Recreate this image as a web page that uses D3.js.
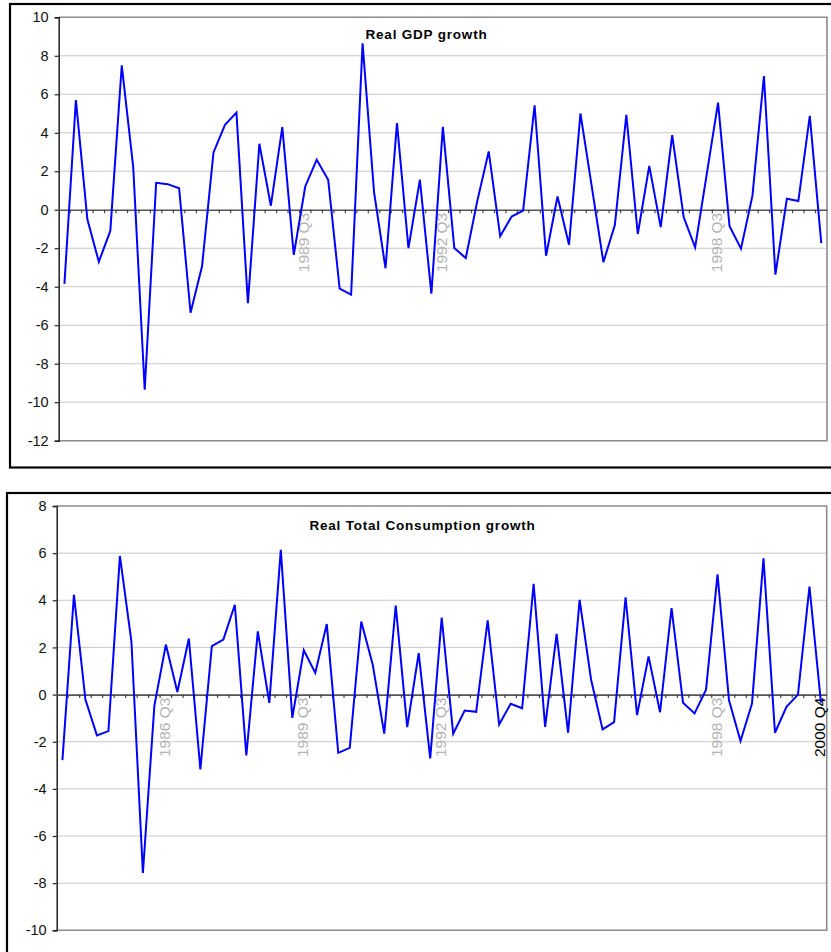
<!DOCTYPE html>
<html>
<head>
<meta charset="utf-8">
<script src="https://cdn.jsdelivr.net/npm/d3@7"></script>
<style>
  html, body { margin: 0; padding: 0; background: #fff; }
  svg { display: block; }
  text { font-family: "Liberation Sans", Arial, sans-serif; }
</style>
</head>
<body>
<svg id="chart" width="831" height="952"></svg>
<script>
const categories = [
  "1984 Q2","1984 Q3","1984 Q4",
  "1985 Q1","1985 Q2","1985 Q3","1985 Q4",
  "1986 Q1","1986 Q2","1986 Q3","1986 Q4",
  "1987 Q1","1987 Q2","1987 Q3","1987 Q4",
  "1988 Q1","1988 Q2","1988 Q3","1988 Q4",
  "1989 Q1","1989 Q2","1989 Q3","1989 Q4",
  "1990 Q1","1990 Q2","1990 Q3","1990 Q4",
  "1991 Q1","1991 Q2","1991 Q3","1991 Q4",
  "1992 Q1","1992 Q2","1992 Q3","1992 Q4",
  "1993 Q1","1993 Q2","1993 Q3","1993 Q4",
  "1994 Q1","1994 Q2","1994 Q3","1994 Q4",
  "1995 Q1","1995 Q2","1995 Q3","1995 Q4",
  "1996 Q1","1996 Q2","1996 Q3","1996 Q4",
  "1997 Q1","1997 Q2","1997 Q3","1997 Q4",
  "1998 Q1","1998 Q2","1998 Q3","1998 Q4",
  "1999 Q1","1999 Q2","1999 Q3","1999 Q4",
  "2000 Q1","2000 Q2","2000 Q3","2000 Q4"
];

const gdpGrowth = [-3.85, 5.7, -0.5, -2.7, -1.1, 7.5, 2.2, -9.35, 1.4, 1.33,
  1.12, -5.35, -2.94, 2.98, 4.41, 5.05, -4.86, 3.43, 0.21, 4.29,
  -2.34, 1.21, 2.6, 1.56, -4.1, -4.41, 8.65, 0.92, -3.04, 4.5,
  -1.99, 1.56, -4.36, 4.31, -1.99, -2.51, 0.45, 3.03, -1.38, -0.35,
  -0.05, 5.43, -2.39, 0.69, -1.82, 5.0, 1.15, -2.72, -0.8, 4.93,
  -1.26, 2.28, -0.9, 3.88, -0.38, -1.95, 1.8, 5.57, -0.85, -2.02,
  0.73, 6.95, -3.37, 0.57, 0.45, 4.88, -1.73];

const consGrowth = [-2.78, 4.23, -0.21, -1.73, -1.55, 5.88, 2.26, -7.57, -0.47, 2.12,
  0.11, 2.38, -3.17, 2.06, 2.33, 3.81, -2.58, 2.68, -0.35, 6.14,
  -0.99, 1.88, 0.92, 2.99, -2.47, -2.26, 3.1, 1.27, -1.66, 3.77,
  -1.38, 1.76, -2.71, 3.27, -1.66, -0.68, -0.73, 3.15, -1.27, -0.39,
  -0.58, 4.7, -1.37, 2.58, -1.62, 4.02, 0.63, -1.48, -1.17, 4.13,
  -0.87, 1.62, -0.75, 3.67, -0.35, -0.8, 0.21, 5.1, -0.24, -1.97,
  -0.38, 5.78, -1.62, -0.52, 0.0, 4.58, -0.34];

const gdpTicks = [10, 8, 6, 4, 2, 0, -2, -4, -6, -8, -10, -12];
const consTicks = [8, 6, 4, 2, 0, -2, -4, -6, -8, -10];

const gdpLabels = ["1989 Q3", "1992 Q3", "1998 Q3"];
const consLabels = ["1986 Q3", "1989 Q3", "1992 Q3", "1998 Q3", "2000 Q4"];
const darkLabels = ["2000 Q4"];

const svg = d3.select("#chart");
svg.append("rect").attr("width", 831).attr("height", 952).attr("fill", "#fff");

function drawPanel(cfg) {
  const g = svg.append("g");
  // outer frame
  g.append("rect")
    .attr("x", cfg.frame[0]).attr("y", cfg.frame[1])
    .attr("width", cfg.frame[2]).attr("height", cfg.frame[3])
    .attr("fill", "none").attr("stroke", "#000").attr("stroke-width", 2.2);

  const [L, T, R, B] = cfg.plot;
  const x = d3.scaleBand().domain(categories).range([L, R]);
  const y = d3.scaleLinear().domain(cfg.domain).range([B, T]);
  const cx = c => x(c) + x.bandwidth() / 2;

  // gridlines
  g.append("g").selectAll("line").data(cfg.ticks.filter(t => t !== 0 && t !== cfg.domain[0] && t !== cfg.domain[1]))
    .join("line")
    .attr("x1", L).attr("x2", R)
    .attr("y1", d => y(d)).attr("y2", d => y(d))
    .attr("stroke", "#c8c8c8").attr("stroke-width", 1);

  // plot border (top, right, bottom)
  g.append("path")
    .attr("d", `M${L},${T}H${R}V${B}H${L}`)
    .attr("fill", "none").attr("stroke", "#8c8c8c").attr("stroke-width", 1.6);

  // y axis
  const yAxis = d3.axisLeft(y).tickValues(cfg.ticks).tickSize(4).tickPadding(6).tickFormat(d => String(d));
  const ya = g.append("g").attr("transform", `translate(${L},0)`).call(yAxis);
  ya.select(".domain").attr("stroke", "#222").attr("stroke-width", 1.5);
  ya.selectAll(".tick line").attr("stroke", "#222").attr("stroke-width", 1.2);
  ya.selectAll(".tick text").attr("font-size", 14.5).attr("fill", "#111")
    .attr("font-family", "'Liberation Sans', Arial, sans-serif");

  // zero axis with category ticks
  const y0 = y(0);
  const xAxis = d3.axisBottom(x).tickValues([]).tickSize(0);
  const xa = g.append("g").attr("transform", `translate(0,${y0})`).call(xAxis);
  xa.select(".domain").attr("stroke", "#555").attr("stroke-width", 1.6);
  g.append("g").selectAll("line").data(categories.slice(1))
    .join("line")
    .attr("x1", d => x(d)).attr("x2", d => x(d))
    .attr("y1", y0).attr("y2", y0 + 3.5)
    .attr("stroke", "#444").attr("stroke-width", 1.2);

  // category labels
  g.append("g").selectAll("text").data(cfg.labels)
    .join("text")
    .attr("transform", d => `translate(${cx(d) + 4},${y0 + 3}) rotate(-90)`)
    .attr("text-anchor", "end")
    .attr("font-size", 15.5)
    .attr("fill", d => darkLabels.includes(d) ? "#000" : "#b4b4b4")
    .text(d => d);

  // line
  const line = d3.line().x((d, i) => cx(categories[i])).y(d => y(d));
  g.append("path").datum(cfg.values)
    .attr("d", line)
    .attr("fill", "none").attr("stroke", "#0000ff").attr("stroke-width", 2)
    .attr("stroke-linejoin", "miter");

  // title
  g.append("text")
    .attr("x", cfg.title[1]).attr("y", cfg.title[2])
    .attr("text-anchor", "middle")
    .attr("font-size", 13.5).attr("font-weight", "bold")
    .attr("letter-spacing", 0.8)
    .attr("fill", "#000")
    .text(cfg.title[0]);
}

drawPanel({
  frame: [10, 4, 840, 463.5],
  plot: [58.7, 17.3, 827, 440.7],
  domain: [-12, 10],
  ticks: gdpTicks,
  values: gdpGrowth,
  labels: gdpLabels,
  title: ["Real GDP growth", 426.5, 39]
});

drawPanel({
  frame: [7, 493, 840, 480],
  plot: [56.7, 506, 826.7, 930.3],
  domain: [-10, 8],
  ticks: consTicks,
  values: consGrowth,
  labels: consLabels,
  title: ["Real Total Consumption growth", 422.5, 529.5]
});
</script>
</body>
</html>
